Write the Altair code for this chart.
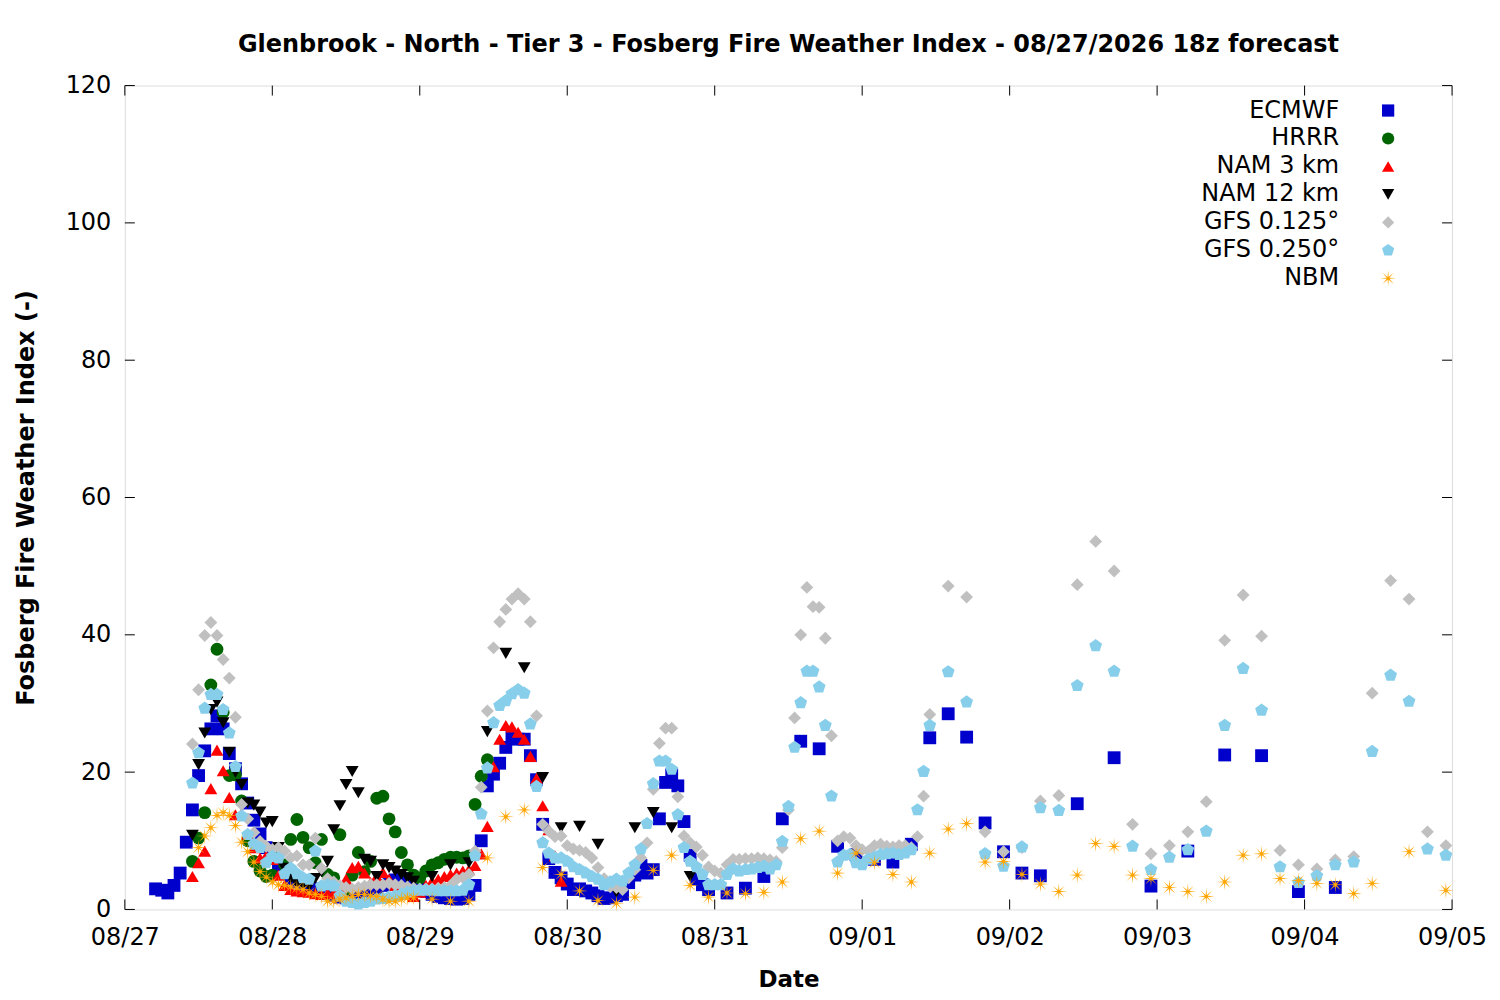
import math
import altair as alt
import pandas as pd

BASE = pd.Timestamp("2026-08-27 00:00")

models = ["ECMWF", "HRRR", "NAM 3 km", "NAM 12 km", "GFS 0.125°", "GFS 0.250°", "NBM"]
colors = ["#0000cd", "#006400", "#ff0000", "#000000", "#c0c0c0", "#87ceeb", "#ffa500"]

# ---- ECMWF (hours since 08/27 00z) ----
ecmwf_hours = list(range(5, 96)) + list(range(98, 150, 3)) + list(range(155, 198, 6))
ecmwf_fwi = [
    3.0, 2.8, 2.4, 3.5, 5.3, 9.8, 14.5, 19.5, 23.1, 26.3,
    28.2, 26.3, 22.7, 20.5, 18.3, 15.5, 13.0, 11.0, 9.0, 7.5,
    6.0, 5.2, 4.5, 4.0, 3.5, 3.2, 3.0, 2.6, 2.3, 2.0,
    1.8, 1.7, 1.8, 2.0, 2.3, 2.6, 3.0, 3.5, 4.0, 4.3,
    4.5, 4.2, 3.8, 3.2, 2.6, 2.2, 1.9, 1.7, 1.6, 1.5,
    1.6, 2.2, 3.5, 10.0, 18.0, 19.7, 21.3, 23.6, 25.2, 24.8,
    24.8, 22.4, 18.9, 12.4, 7.4, 5.4, 4.6, 3.7, 2.9, 3.0,
    2.7, 2.4, 2.0, 1.6, 1.7, 2.0, 2.2, 3.9, 5.0, 6.4,
    5.3, 5.8, 13.2, 18.5, 19.6, 18.0, 12.8, 7.9, 4.4, 3.6,
    2.9,
    2.4, 3.1, 4.8, 13.2, 24.5, 23.4, 9.2, 8.0, 7.3, 6.9,
    9.5, 25.0, 28.5, 25.1, 12.6, 8.4, 5.3, 4.9,
    15.4, 22.1, 3.4, 8.5, 22.5, 22.4, 2.6, 3.2,
]

# ---- HRRR ----
hrrr_hours = list(range(11, 60))
hrrr_fwi = [
    7.0, 10.4, 14.1, 32.7, 37.9, 28.7, 19.5, 19.6, 15.8, 10.0,
    7.0, 5.6, 4.8, 5.0, 8.2, 6.5, 10.2, 13.1, 10.5, 9.0,
    6.8, 10.2, 5.1, 4.6, 10.9, 2.9, 5.0, 8.3, 5.5, 7.0,
    16.2, 16.5, 13.2, 11.3, 8.3, 6.5, 5.0, 4.6, 5.6, 6.5,
    6.8, 7.3, 7.6, 7.6, 7.5, 7.8, 15.3, 19.4, 21.8,
]

# ---- NAM 3 km ----
nam3_hours = list(range(11, 72))
nam3_fwi = [
    4.8, 6.8, 8.5, 17.6, 23.2, 20.2, 16.3, 13.8, 14.0, 11.0,
    9.0, 7.5, 7.8, 7.3, 5.0, 3.5, 2.9, 2.7, 2.6, 2.5,
    2.3, 2.2, 2.3, 2.4, 3.0, 4.4, 6.1, 6.3, 5.3, 3.9,
    4.8, 5.4, 4.4, 3.5, 2.8, 2.3, 1.9, 2.5, 3.5, 4.1,
    4.4, 4.8, 5.1, 5.3, 5.6, 5.8, 6.4, 8.1, 12.1, 20.8,
    24.8, 26.8, 26.6, 25.8, 24.8, 22.3, 19.1, 15.1, 11.6, 7.8, 4.1,
]

# ---- NAM 12 km ----
nam12_hours = list(range(11, 48)) + list(range(50, 93, 3))
nam12_fwi = [
    10.8, 21.1, 25.7, 29.1, 30.2, 27.2, 22.9, 20.0, 18.2, 15.5,
    15.2, 14.2, 12.6, 12.8, 9.0, 6.0, 4.5, 3.8, 3.5, 3.4,
    4.5, 5.5, 7.0, 11.6, 15.1, 18.2, 20.1, 17.0, 7.3, 7.0,
    4.8, 6.5, 6.1, 5.6, 5.1, 4.6, 4.1,
    4.8, 6.5, 6.8, 25.9, 37.3, 35.2, 19.2, 11.9, 12.1, 9.5,
    2.5, 11.9, 14.1, 11.9, 4.8,
]

# ---- GFS 0.125 ----
gfs125_hours = list(range(11, 132)) + list(range(134, 216, 3))
gfs125_fwi = [
    24.1, 32.0, 39.9, 41.8, 39.9, 36.4, 33.7, 28.0, 15.3, 13.2,
    11.2, 9.9, 9.2, 8.7, 9.0, 8.5, 7.5, 7.8, 6.5, 6.5,
    10.4, 6.0, 4.5, 4.0, 3.5, 3.2, 3.0, 3.2, 3.4, 3.6,
    3.6, 3.6, 3.8, 3.6, 3.5, 3.3, 3.1, 3.0, 3.0, 3.0,
    3.1, 3.2, 3.5, 4.4, 4.6, 5.1, 8.5, 17.8, 28.9, 38.1,
    41.9, 43.7, 45.2, 46.0, 45.2, 41.9, 28.2, 12.4, 11.4, 10.6,
    10.7, 9.3, 8.8, 8.6, 8.3, 7.5, 6.1, 4.5, 3.3, 3.2,
    2.9, 4.6, 5.8, 7.5, 9.7, 17.5, 24.2, 26.4, 26.4, 16.4,
    10.7, 9.7, 9.1, 7.9, 6.2, 5.6, 5.3, 6.5, 7.3, 7.3,
    7.4, 7.4, 7.5, 7.4, 7.2, 7.0, 9.0, 14.5, 27.9, 40.0,
    46.9, 44.1, 44.0, 39.5, 25.3, 10.0, 10.6, 10.4, 9.3, 8.7,
    8.5, 9.3, 9.5, 9.2, 9.1, 9.3, 9.3, 9.0, 10.6, 16.5, 28.4,
    47.1, 45.5, 11.3, 8.4, 9.0, 15.8, 16.6, 47.3, 53.6, 49.3,
    12.4, 8.1, 9.3, 11.3, 15.7, 39.2, 45.8, 39.8, 8.6, 6.5,
    5.9, 7.2, 7.7, 31.5, 47.9, 45.2, 11.3, 9.3,
]

# ---- GFS 0.250 ----
gfs250_hours = list(range(11, 132)) + list(range(134, 216, 3))
gfs250_fwi = [
    18.4, 22.8, 29.3, 31.3, 31.3, 29.1, 25.7, 20.8, 13.6, 10.9,
    9.5, 9.0, 6.8, 7.7, 7.5, 5.2, 6.0, 5.2, 4.6, 4.4,
    8.5, 3.4, 3.6, 3.4, 2.0, 1.2, 1.0, 0.8, 1.0, 1.2,
    1.5, 1.6, 1.8, 2.0, 2.2, 2.5, 2.7, 2.8, 2.8, 2.8,
    2.7, 2.7, 2.7, 2.7, 2.8, 3.6, 7.8, 13.9, 20.6, 27.2,
    29.7, 30.4, 31.4, 32.0, 31.5, 27.0, 17.9, 9.7, 8.2, 7.5,
    7.5, 7.0, 6.2, 5.8, 5.3, 4.8, 4.4, 3.6, 4.0, 4.4,
    4.1, 5.3, 6.5, 8.8, 12.5, 18.3, 21.6, 21.6, 20.4, 13.8,
    9.0, 7.0, 6.2, 5.1, 3.6, 3.6, 3.6, 5.1, 5.9, 5.6,
    5.8, 5.9, 6.1, 6.3, 5.9, 6.5, 9.9, 15.0, 23.6, 30.1,
    34.7, 34.7, 32.4, 26.8, 16.5, 6.9, 7.9, 8.0, 6.8, 6.5,
    7.3, 7.6, 8.0, 8.1, 8.2, 8.0, 8.2, 8.7, 14.5, 20.1, 26.8,
    34.6, 30.2, 8.1, 6.3, 9.1, 14.8, 14.4, 32.6, 38.4, 34.7,
    9.2, 5.8, 7.6, 8.7, 11.4, 26.8, 35.1, 29.0, 6.2, 3.9,
    4.9, 6.5, 6.9, 23.0, 34.1, 30.3, 8.8, 7.9,
]

# ---- NBM ----
nbm_hours = list(range(12, 48)) + list(range(50, 204, 3)) + [209, 215]
nbm_fwi = [
    9.0, 10.7, 11.9, 13.7, 14.1, 13.7, 12.2, 9.8, 8.4, 6.9,
    5.5, 4.7, 4.0, 3.6, 3.5, 3.3, 3.1, 2.9, 2.4, 2.2,
    1.9, 1.2, 1.2, 1.5, 1.7, 1.9, 2.2, 2.2, 2.0, 1.9,
    1.5, 1.2, 1.2, 1.5, 1.7, 1.7,
    1.5, 1.2, 1.2, 7.5, 13.5, 14.5, 6.1, 5.1, 2.7, 1.3,
    0.9, 1.8, 5.7, 7.9, 3.5, 1.8, 2.4, 2.3, 2.5, 4.0,
    10.3, 11.4, 5.3, 8.2, 6.8, 5.1, 4.0, 8.2, 11.7, 12.5,
    6.9, 7.0, 5.1, 3.7, 2.6, 5.0, 9.6, 9.2, 5.0, 4.5,
    3.2, 2.6, 1.9, 4.0, 7.9, 8.1, 4.5, 4.2, 3.8, 3.6,
    2.3, 3.8,
    8.4, 2.8,
]

day_ticks = ["2026-08-27", "2026-08-28", "2026-08-29", "2026-08-30", "2026-08-31",
             "2026-09-01", "2026-09-02", "2026-09-03", "2026-09-04", "2026-09-05"]
y_ticks = [0, 20, 40, 60, 80, 100, 120]

series = [
    ("ECMWF", ecmwf_hours, ecmwf_fwi),
    ("HRRR", hrrr_hours, hrrr_fwi),
    ("NAM 3 km", nam3_hours, nam3_fwi),
    ("NAM 12 km", nam12_hours, nam12_fwi),
    ("GFS 0.125°", gfs125_hours, gfs125_fwi),
    ("GFS 0.250°", gfs250_hours, gfs250_fwi),
    ("NBM", nbm_hours, nbm_fwi),
]
frames = []
for name, hrs, vals in series:
    if len(hrs) != len(vals):
        raise ValueError(f"{name}: {len(hrs)} hours vs {len(vals)} values")
    frames.append(pd.DataFrame({
        "time": BASE + pd.to_timedelta(hrs, unit="h"),
        "fwi": vals,
        "model": name,
    }))
df = pd.concat(frames, ignore_index=True)


def polygon(points):
    return "M" + "L".join(f"{x:.3f},{y:.3f}" for x, y in points) + "Z"


pentagon = polygon([(1.05 * math.cos(math.radians(-90 + 72 * k)),
                     1.05 * math.sin(math.radians(-90 + 72 * k))) for k in range(5)])
star = polygon([((1.3 if k % 2 == 0 else 0.24) * math.cos(math.radians(22.5 * k)),
                 (1.3 if k % 2 == 0 else 0.24) * math.sin(math.radians(22.5 * k)))
                for k in range(16)])
shapes = ["square", "circle", "triangle-up", "triangle-down", "diamond", pentagon, star]

W, H = 1329, 825
FONT = "DejaVu Sans"

xscale = alt.Scale(domain=[alt.DateTime(year=2026, month=8, date=27),
                           alt.DateTime(year=2026, month=9, date=5)], nice=False)
yscale = alt.Scale(domain=[0, 120], nice=False, zero=True)

xaxis = alt.Axis(
    values=[alt.DateTime(year=int(d[:4]), month=int(d[5:7]), date=int(d[8:])) for d in day_ticks],
    format="%m/%d", labelFont=FONT, labelFontSize=24, labelColor="black",
    labelPadding=16, labelFlush=False, labelOverlap=False, ticks=False, tickSize=0,
    domain=False, grid=False, title="Date", titleFont=FONT, titleFontSize=23,
    titleFontWeight="bold", titleColor="black", titleY=70, titleBaseline="middle",
)
yaxis = alt.Axis(
    values=y_ticks, labelFont=FONT, labelFontSize=24, labelColor="black",
    labelPadding=14, ticks=False, tickSize=0, domain=False, grid=False,
    title="Fosberg Fire Weather Index (-)", titleFont=FONT, titleFontSize=24,
    titleFontWeight="bold", titleColor="black", titleX=-98, titleY=H / 2,
    titleAngle=270, titleBaseline="middle", titleAlign="center",
)

legend = alt.Legend(
    title=None, orient="none", legendX=1090, legendY=13, direction="vertical",
    labelFont=FONT, labelFontSize=24, labelColor="black", labelAlign="right",
    labelOffset={"expr": "-61"}, symbolOffset=163, symbolSize=150, symbolStrokeWidth=0,
    rowPadding=4, labelLimit=400, padding=0,
)

points = alt.Chart(df).mark_point(filled=True, size=165, opacity=1, strokeWidth=0).encode(
    x=alt.X("time:T", scale=xscale, axis=xaxis),
    y=alt.Y("fwi:Q", scale=yscale, axis=yaxis),
    color=alt.Color("model:N", scale=alt.Scale(domain=models, range=colors), legend=legend),
    shape=alt.Shape("model:N", scale=alt.Scale(domain=models, range=shapes), legend=legend),
)

day_df = pd.DataFrame({"time": pd.to_datetime(day_ticks)})
ytick_df = pd.DataFrame({"fwi": y_ticks})

xt_bottom = alt.Chart(day_df).mark_rule(color="black", strokeWidth=1).encode(
    x=alt.X("time:T", scale=xscale, axis=xaxis), y=alt.value(H), y2=alt.value(H - 10))
xt_top = alt.Chart(day_df).mark_rule(color="black", strokeWidth=1).encode(
    x=alt.X("time:T", scale=xscale, axis=xaxis), y=alt.value(0), y2=alt.value(10))
yt_left = alt.Chart(ytick_df).mark_rule(color="black", strokeWidth=1).encode(
    y=alt.Y("fwi:Q", scale=yscale, axis=yaxis), x=alt.value(0), x2=alt.value(10))
yt_right = alt.Chart(ytick_df).mark_rule(color="black", strokeWidth=1).encode(
    y=alt.Y("fwi:Q", scale=yscale, axis=yaxis), x=alt.value(W), x2=alt.value(W - 10))

chart = alt.layer(points, xt_bottom, xt_top, yt_left, yt_right).properties(
    width=W, height=H,
    autosize="none",
    padding={"left": 117, "top": 77, "right": 40, "bottom": 88},
    title=alt.TitleParams(
        "Glenbrook - North - Tier 3 - Fosberg Fire Weather Index - 08/27/2026 18z forecast",
        font=FONT, fontSize=24, fontWeight="bold", color="black", anchor="middle", offset=17,
    ),
).configure_view(stroke="black", strokeWidth=1.5).configure(background="white")

chart.save("out.html", embed_options={"renderer": "svg", "actions": False})
